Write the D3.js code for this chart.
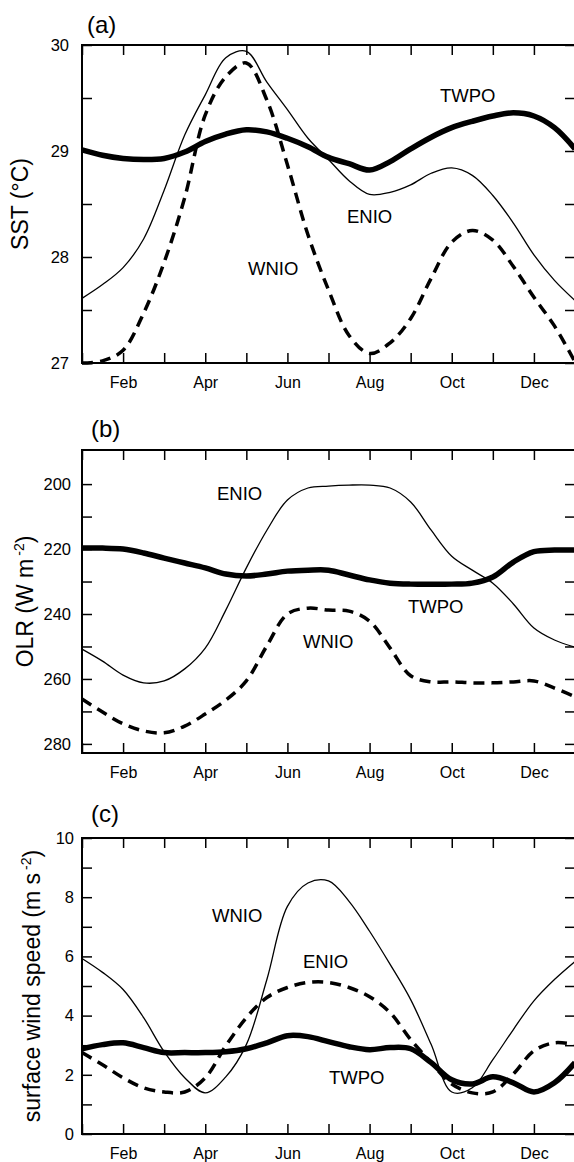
<!DOCTYPE html>
<html>
<head>
<meta charset="utf-8">
<script src="https://cdn.jsdelivr.net/npm/d3@7"></script>
<style>
  body { margin: 0; background: #fff; }
  svg { display: block; font-family: "Liberation Sans", Arial, Helvetica, sans-serif; }
</style>
</head>
<body>
<svg id="chart" width="574" height="1162"></svg>
<script>
// month position, half-month steps (1 = Jan ... 13 = Jan again)
const months = [1, 1.5, 2, 2.5, 3, 3.5, 4, 4.5, 5, 5.5, 6, 6.5, 7, 7.5, 8, 8.5, 9, 9.5, 10, 10.5, 11, 11.5, 12, 12.5, 13];
const monthTicks = [1, 2, 3, 4, 5, 6, 7, 8, 9, 10, 11, 12, 13];
const labelMonths = [2, 4, 6, 8, 10, 12];
const labelNames = ["Feb", "Apr", "Jun", "Aug", "Oct", "Dec"];

// (a) SST, deg C
const sstTWPO = [29.01, 28.96, 28.93, 28.92, 28.93, 28.99, 29.09, 29.16, 29.20, 29.18, 29.12, 29.04, 28.94, 28.88, 28.82, 28.90, 29.02, 29.13, 29.22, 29.28, 29.33, 29.36, 29.33, 29.22, 29.02];
const sstENIO = [27.61, 27.74, 27.90, 28.17, 28.63, 29.15, 29.53, 29.88, 29.94, 29.65, 29.39, 29.12, 28.92, 28.72, 28.59, 28.61, 28.68, 28.79, 28.84, 28.77, 28.58, 28.32, 28.02, 27.78, 27.59];
const sstWNIO = [27.00, 27.02, 27.12, 27.47, 27.95, 28.56, 29.34, 29.70, 29.83, 29.48, 28.87, 28.21, 27.69, 27.26, 27.09, 27.19, 27.42, 27.80, 28.14, 28.25, 28.16, 27.91, 27.62, 27.35, 27.01];
const sstTicks = [27, 27.5, 28, 28.5, 29, 29.5, 30];

// (b) OLR, W m-2
const olrTWPO = [219.7, 219.7, 220.0, 221.2, 222.8, 224.3, 225.8, 227.7, 228.3, 227.7, 226.8, 226.5, 226.5, 228.0, 229.5, 230.5, 230.8, 230.8, 230.8, 230.5, 228.6, 224.0, 220.8, 220.3, 220.3];
const olrENIO = [250.8, 254.5, 258.8, 261.2, 260.6, 256.9, 250.5, 238.8, 225.8, 214.2, 204.9, 201.2, 200.6, 200.3, 200.3, 201.2, 205.5, 214.2, 222.2, 226.5, 230.5, 236.9, 244.3, 248.0, 250.2];
const olrWNIO = [266.2, 270.2, 273.8, 276.0, 276.6, 274.5, 270.8, 266.5, 260.6, 249.8, 240.0, 238.2, 238.8, 239.1, 242.2, 250.5, 259.0, 260.9, 260.9, 261.2, 261.2, 260.9, 260.6, 262.8, 265.5];
const olrTicks = [200, 210, 220, 230, 240, 250, 260, 270, 280];

// (c) surface wind speed
const windTWPO = [2.88, 3.02, 3.08, 2.92, 2.75, 2.75, 2.75, 2.78, 2.88, 3.08, 3.32, 3.29, 3.12, 2.95, 2.85, 2.92, 2.88, 2.41, 1.83, 1.69, 1.93, 1.73, 1.42, 1.73, 2.41];
const windENIO = [2.75, 2.34, 1.90, 1.56, 1.42, 1.42, 1.90, 2.98, 3.93, 4.61, 4.95, 5.12, 5.12, 4.95, 4.64, 4.10, 3.19, 2.41, 1.69, 1.39, 1.42, 2.03, 2.81, 3.08, 3.02];
const windWNIO = [5.93, 5.46, 4.88, 3.93, 2.78, 1.90, 1.39, 1.93, 3.02, 5.22, 7.69, 8.48, 8.55, 7.86, 6.85, 5.73, 4.54, 3.02, 1.42, 1.56, 2.51, 3.53, 4.50, 5.22, 5.83];
const windTicks = [0, 1, 2, 3, 4, 5, 6, 7, 8, 9, 10];

const styles = {
  thick:  { width: 5.5, dash: null },
  thin:   { width: 1.3, dash: null },
  dashed: { width: 3.5, dash: "11,7" }
};

const left = 82, right = 575;

const panels = [
  {
    tag: "(a)", tagX: 87, tagY: 33,
    top: 45, bottom: 363, domain: [27, 30],
    ticks: sstTicks, labelled: v => Number.isInteger(v), pad: 13,
    title: ["SST (°C)"], titleX: 28,
    series: [
      { name: "TWPO", values: sstTWPO, style: "thick", lx: 440, ly: 102 },
      { name: "ENIO", values: sstENIO, style: "thin", lx: 347, ly: 223 },
      { name: "WNIO", values: sstWNIO, style: "dashed", lx: 248, ly: 275 }
    ]
  },
  {
    tag: "(b)", tagX: 91, tagY: 437,
    top: 450, bottom: 753, domain: [282.8, 189.5],
    ticks: olrTicks, labelled: v => v % 20 === 0, pad: 11,
    title: ["OLR (W m", "-2", ")"], titleX: 33,
    series: [
      { name: "TWPO", values: olrTWPO, style: "thick", lx: 408, ly: 613 },
      { name: "ENIO", values: olrENIO, style: "thin", lx: 217, ly: 500 },
      { name: "WNIO", values: olrWNIO, style: "dashed", lx: 303, ly: 648 }
    ]
  },
  {
    tag: "(c)", tagX: 91, tagY: 822,
    top: 838, bottom: 1134, domain: [0, 10],
    ticks: windTicks, labelled: v => v % 2 === 0, pad: 8,
    title: ["surface wind speed (m s", "-2", ")"], titleX: 40,
    series: [
      { name: "TWPO", values: windTWPO, style: "thick", lx: 329, ly: 1084 },
      { name: "ENIO", values: windENIO, style: "dashed", lx: 303, ly: 968 },
      { name: "WNIO", values: windWNIO, style: "thin", lx: 212, ly: 922 }
    ]
  }
];

const svg = d3.select("#chart");
const x = d3.scaleLinear().domain([1, 13]).range([left, right]);

panels.forEach(p => {
  const y = d3.scaleLinear().domain(p.domain).range([p.bottom, p.top]);
  const g = svg.append("g");

  const line = d3.line()
    .x((d, i) => x(months[i]))
    .y(d => y(d))
    .curve(d3.curveCatmullRom.alpha(0.5));

  g.selectAll("path.series")
    .data(p.series)
    .join("path")
    .attr("class", "series")
    .attr("fill", "none")
    .attr("stroke", "#000")
    .attr("stroke-width", d => styles[d.style].width)
    .attr("stroke-dasharray", d => styles[d.style].dash)
    .attr("d", d => line(d.values));

  g.selectAll("text.name")
    .data(p.series)
    .join("text")
    .attr("class", "name")
    .attr("x", d => d.lx)
    .attr("y", d => d.ly)
    .attr("font-size", 18.5)
    .text(d => d.name);

  // axes, ticks pointing inward
  const bottomAxis = g.append("g")
    .attr("transform", `translate(0,${p.bottom})`)
    .call(d3.axisBottom(x).tickValues(monthTicks).tickSize(-10).tickPadding(14)
      .tickFormat(m => {
        const k = labelMonths.indexOf(m);
        return k < 0 ? "" : labelNames[k];
      }));
  g.append("g")
    .attr("transform", `translate(0,${p.top})`)
    .call(d3.axisTop(x).tickValues(monthTicks).tickSize(-10).tickFormat(""));
  const leftAxis = g.append("g")
    .attr("transform", `translate(${left},0)`)
    .call(d3.axisLeft(y).tickValues(p.ticks).tickSize(-10).tickPadding(p.pad)
      .tickFormat(v => p.labelled(v) ? v : ""));
  g.append("g")
    .attr("transform", `translate(${right},0)`)
    .call(d3.axisRight(y).tickValues(p.ticks).tickSize(-10).tickFormat(""));

  g.selectAll(".domain").remove();
  g.selectAll(".tick line").attr("stroke-width", 1.5);
  g.selectAll(".tick text").attr("fill", "#000");
  g.selectAll("g").attr("font-family", null);
  bottomAxis.attr("font-size", 16);
  leftAxis.attr("font-size", 16.5);

  g.append("rect")
    .attr("x", left)
    .attr("y", p.top)
    .attr("width", right - left)
    .attr("height", p.bottom - p.top)
    .attr("fill", "none")
    .attr("stroke", "#000")
    .attr("stroke-width", 2);

  g.append("text")
    .attr("x", p.tagX)
    .attr("y", p.tagY)
    .attr("font-size", 24)
    .text(p.tag);

  const t = g.append("text")
    .attr("transform", `translate(${p.titleX},${(p.top + p.bottom) / 2}) rotate(-90)`)
    .attr("text-anchor", "middle")
    .attr("font-size", 23);
  t.append("tspan").text(p.title[0]);
  if (p.title.length > 1) {
    t.append("tspan").attr("dx", 3).attr("dy", -9).attr("font-size", 14).text(p.title[1]);
    t.append("tspan").attr("dy", 9).text(p.title[2]);
  }
});
</script>
</body>
</html>
